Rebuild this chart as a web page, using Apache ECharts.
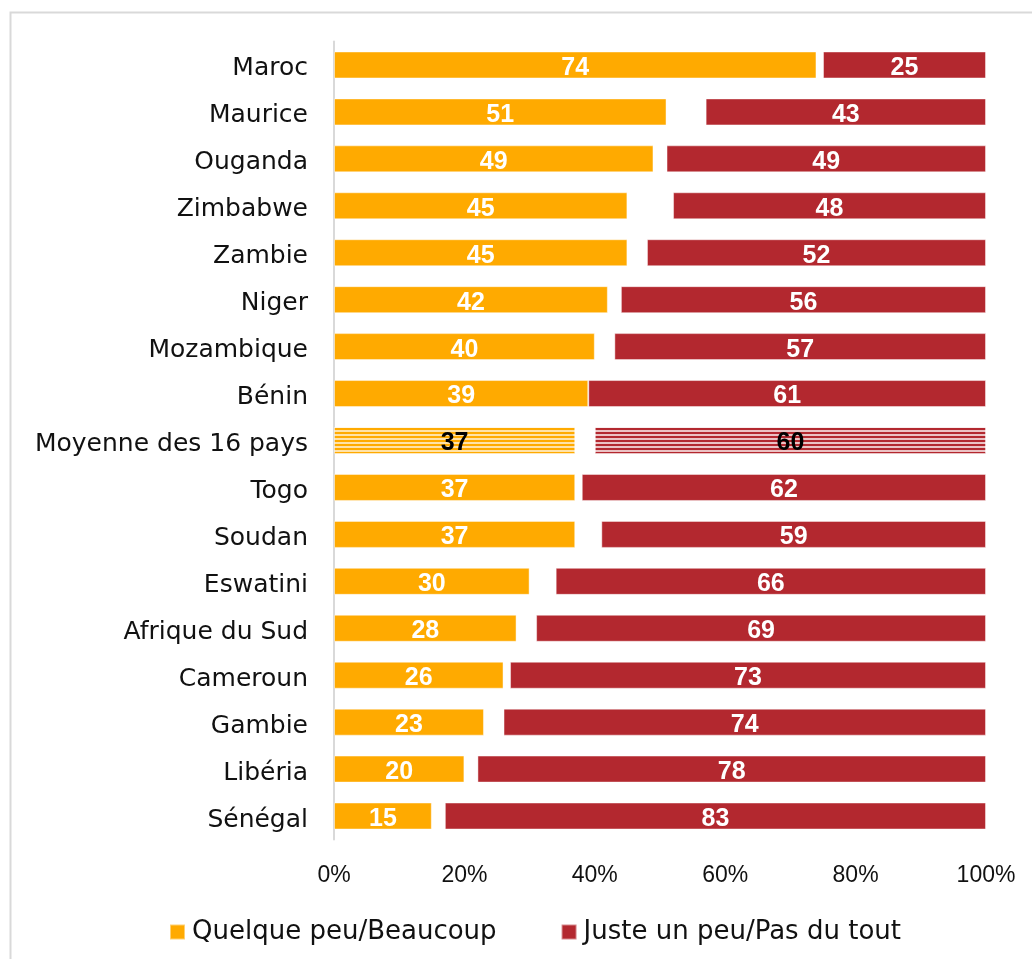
<!DOCTYPE html>
<html>
<head>
<meta charset="utf-8">
<style>
  html, body { margin: 0; padding: 0; background: #ffffff; }
  #chart { width: 1032px; height: 959px; }
</style>
<script src="https://cdn.jsdelivr.net/npm/echarts@6/dist/echarts.min.js"></script>
</head>
<body>
<div id="chart"></div>
<script>
// Survey results by country (%), top to bottom
const categories = [
  'Maroc', 'Maurice', 'Ouganda', 'Zimbabwe', 'Zambie', 'Niger', 'Mozambique',
  'Bénin', 'Moyenne des 16 pays', 'Togo', 'Soudan', 'Eswatini', 'Afrique du Sud',
  'Cameroun', 'Gambie', 'Libéria', 'Sénégal'
];
const quelquePeu = [74, 51, 49, 45, 45, 42, 40, 39, 37, 37, 37, 30, 28, 26, 23, 20, 15];
const nspRefus   = [1, 6, 2, 7, 3, 2, 3, 0, 3, 1, 4, 4, 3, 1, 3, 2, 2];
const justeUnPeu = [25, 43, 49, 48, 52, 56, 57, 61, 60, 62, 59, 66, 69, 73, 74, 78, 83];
const xTicks = [0, 20, 40, 60, 80, 100];

const AVERAGE = 'Moyenne des 16 pays';
const ORANGE = '#FFAA00';
const RED = '#B3282F';

// Horizontal-stripe fill used for the average row
function stripes(color, pale) {
  const c = document.createElement('canvas');
  c.width = 4; c.height = 4;
  const g = c.getContext('2d');
  g.fillStyle = pale; g.fillRect(0, 0, 4, 4);
  g.fillStyle = color; g.fillRect(0, 0, 4, 2);
  return { image: c, repeat: 'repeat' };
}

function items(values, color, pale) {
  return values.map((v, i) => {
    if (categories[i] !== AVERAGE) return v;
    return {
      value: v,
      itemStyle: { color: stripes(color, pale) },
      label: { color: '#000000' }
    };
  });
}

const labelStyle = {
  show: true,
  position: 'inside',
  offset: [0, 3],
  color: '#ffffff',
  fontFamily: 'Liberation Sans',
  fontWeight: 'bold',
  fontSize: 25
};

const chart = echarts.init(document.getElementById('chart'), null, { renderer: 'canvas' });

chart.setOption({
  animation: false,
  backgroundColor: '#ffffff',
  graphic: [{
    type: 'rect',
    shape: { x: 10.5, y: 12.5, width: 1100, height: 1000 },
    style: { fill: 'none', stroke: '#d9d9d9', lineWidth: 2 },
    silent: true
  }],
  grid: { left: 334, right: 46, top: 41.5, bottom: 119.5, containLabel: false },
  xAxis: {
    type: 'value',
    min: xTicks[0],
    max: xTicks[xTicks.length - 1],
    interval: 20,
    axisLine: { show: false },
    axisTick: { show: false },
    splitLine: { show: false },
    axisLabel: {
      formatter: '{value}%',
      margin: 25,
      color: '#111111',
      fontFamily: 'Liberation Sans',
      fontSize: 23
    }
  },
  yAxis: {
    type: 'category',
    inverse: true,
    data: categories,
    axisLine: { show: true, lineStyle: { color: '#d9d9d9', width: 2 } },
    axisTick: { show: false },
    axisLabel: {
      margin: 26,
      verticalAlign: 'top',
      lineHeight: 8,
      color: '#111111',
      fontFamily: 'DejaVu Sans',
      fontSize: 25
    }
  },
  legend: {
    data: ['Quelque peu/Beaucoup', 'Juste un peu/Pas du tout'],
    left: 164,
    top: 914,
    icon: 'rect',
    itemWidth: 15,
    itemHeight: 15,
    itemGap: 64,
    textStyle: {
      color: '#111111',
      fontFamily: 'DejaVu Sans',
      fontSize: 26,
      padding: [0, 0, 0, 2]
    }
  },
  series: [
    {
      name: 'Quelque peu/Beaucoup',
      type: 'bar',
      stack: 'total',
      barWidth: 27,
      itemStyle: { color: ORANGE, borderColor: 'rgba(255,255,255,0.45)', borderWidth: 1 },
      label: labelStyle,
      data: items(quelquePeu, ORANGE, '#FFE2A8')
    },
    {
      name: 'Ne sait pas/Refus',
      type: 'bar',
      stack: 'total',
      barWidth: 27,
      itemStyle: { color: 'rgba(0,0,0,0)' },
      label: { show: false },
      silent: true,
      data: nspRefus
    },
    {
      name: 'Juste un peu/Pas du tout',
      type: 'bar',
      stack: 'total',
      barWidth: 27,
      itemStyle: { color: RED, borderColor: 'rgba(255,255,255,0.45)', borderWidth: 1 },
      label: labelStyle,
      data: items(justeUnPeu, RED, '#EBC2C4')
    }
  ]
});
</script>
</body>
</html>
